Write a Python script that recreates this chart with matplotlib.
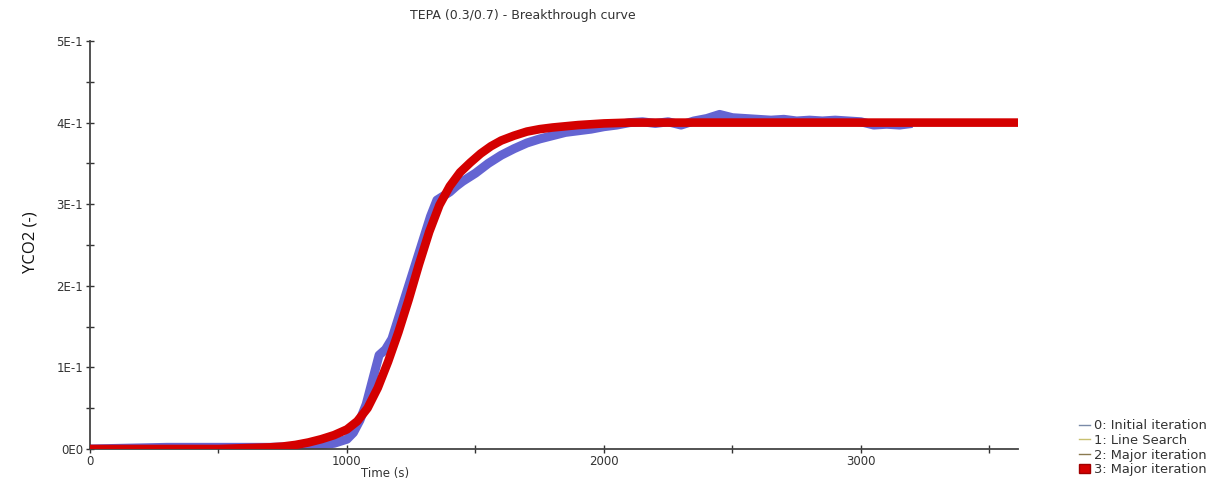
import matplotlib.pyplot as plt
import matplotlib.patches as mpatches
from matplotlib.lines import Line2D
from matplotlib.ticker import MultipleLocator, FixedLocator, FixedFormatter

# Measured data (blue, noisy)
t_meas = [0, 300, 700, 800, 850, 900, 950, 1000, 1025, 1050, 1075, 1100, 1125, 1150,
          1175, 1200, 1225, 1250, 1275, 1300, 1325, 1350, 1375, 1400, 1425, 1450,
          1475, 1500, 1550, 1600, 1650, 1700, 1750, 1800, 1850, 1900, 1950, 2000,
          2050, 2100, 2150, 2200, 2250, 2300, 2350, 2400, 2450, 2500, 2550, 2600,
          2650, 2700, 2750, 2800, 2850, 2900, 2950, 3000, 3050, 3100, 3150, 3200]
y_meas = [0.0, 0.002, 0.002, 0.003, 0.004, 0.005, 0.007, 0.012, 0.02, 0.035, 0.055,
          0.085, 0.115, 0.122, 0.135, 0.16, 0.185, 0.21, 0.235, 0.26, 0.285, 0.305,
          0.31, 0.315, 0.322, 0.328, 0.333, 0.338, 0.35, 0.36, 0.368, 0.375, 0.38,
          0.384, 0.388, 0.39, 0.392, 0.395, 0.397, 0.40, 0.401, 0.399, 0.401, 0.397,
          0.402, 0.405, 0.41, 0.406, 0.405, 0.404, 0.403, 0.404, 0.402, 0.403, 0.402,
          0.403, 0.402, 0.401, 0.397, 0.398, 0.397, 0.399]

# Model fit (red, iteration 3)
t_fit = [0, 500, 600, 700, 750, 800, 850, 900, 950, 1000, 1040, 1080, 1120, 1160,
         1200, 1240, 1280, 1320, 1360, 1400, 1440, 1480, 1520, 1560, 1600, 1650,
         1700, 1750, 1800, 1900, 2000, 2100, 2200, 3620]
y_fit = [0.0, 0.0, 0.001, 0.002, 0.003, 0.005, 0.008, 0.012, 0.017, 0.024, 0.034,
         0.05, 0.075, 0.107, 0.143, 0.183, 0.226, 0.266, 0.299, 0.322, 0.339, 0.351,
         0.362, 0.371, 0.378, 0.384, 0.389, 0.392, 0.394, 0.397, 0.399, 0.40, 0.40,
         0.40]

y_ticks = [0.0, 0.1, 0.2, 0.3, 0.4, 0.5]
y_ticklabels = ["0E0", "1E-1", "2E-1", "3E-1", "4E-1", "5E-1"]
x_ticks = [0, 1000, 2000, 3000]
legend_labels = ["0: Initial iteration", "1: Line Search", "2: Major iteration", "3: Major iteration"]

fig = plt.figure(figsize=(12.21, 4.9), dpi=100)
ax = fig.add_axes([0.0737, 0.0837, 0.76, 0.8326])

ax.plot(t_meas, y_meas, color='#6464d2', lw=6.5, solid_capstyle='butt', zorder=2)
ax.plot(t_fit, y_fit, color='#d40000', lw=6.2, solid_capstyle='butt',
        solid_joinstyle='round', zorder=3)

ax.set_xlim(0, 3611)
ax.set_ylim(0, 0.5)
ax.spines['top'].set_visible(False)
ax.spines['right'].set_visible(False)
for s in ['left', 'bottom']:
    ax.spines[s].set_color('#444444')
    ax.spines[s].set_linewidth(1.3)

ax.yaxis.set_major_locator(FixedLocator(y_ticks))
ax.yaxis.set_major_formatter(FixedFormatter(y_ticklabels))
ax.yaxis.set_minor_locator(MultipleLocator(0.05))
ax.xaxis.set_major_locator(FixedLocator(x_ticks))
ax.xaxis.set_minor_locator(MultipleLocator(500))
ax.tick_params(which='both', direction='inout', length=6, width=1, color='#333333',
               labelsize=8.5, labelcolor='#333333')
ax.tick_params(axis='x', pad=1)
ax.tick_params(axis='y', pad=2)
for lbl in ax.get_xticklabels() + ax.get_yticklabels():
    lbl.set_family('DejaVu Sans')

fig.text(0.428, 0.968, "TEPA (0.3/0.7) - Breakthrough curve", ha='center', va='center',
         fontsize=9, color='#333333', family='DejaVu Sans')
fig.text(0.315, 0.033, "Time (s)", ha='center', va='center',
         fontsize=8.5, color='#333333', family='DejaVu Sans')
fig.text(0.025, 0.505, "YCO2 (-)", ha='center', va='center', rotation=90,
         fontsize=12, color='#111111', family='Open Sans')

handles = [Line2D([], [], color='#7a8aa8', lw=1),
           Line2D([], [], color='#c8c070', lw=1),
           Line2D([], [], color='#8a7a50', lw=1),
           mpatches.Patch(facecolor='#d40000', edgecolor='#a00000')]
leg = fig.legend(handles, legend_labels, loc='lower left', bbox_to_anchor=(0.884, 0.028),
                 frameon=False, fontsize=9.4, handlelength=0.85, handleheight=0.7,
                 handletextpad=0.25, labelspacing=0.13, borderpad=0, borderaxespad=0)
for txt in leg.get_texts():
    txt.set_color('#333333')
    txt.set_family('DejaVu Sans')

fig.savefig('out.png', dpi=100)
